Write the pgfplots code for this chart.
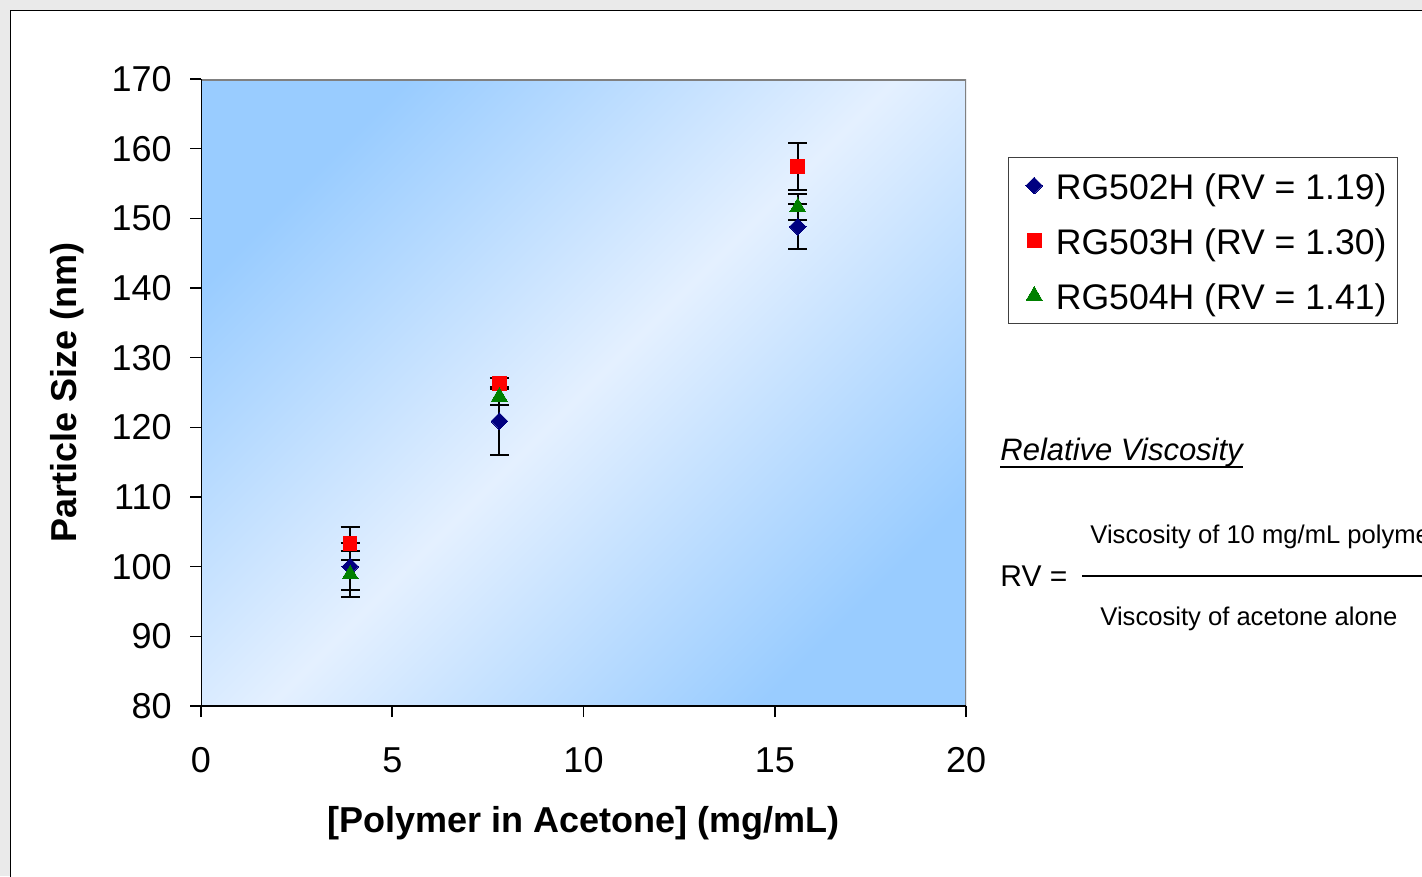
\documentclass[border=0pt]{standalone}
\usepackage{pgfplots}
\pgfplotsset{compat=1.18}
\usepackage{pgfplotstable}
\usepackage{fontspec}
\setmainfont{Liberation Sans}

\definecolor{bgdark}{RGB}{153,204,255}
\definecolor{bglight}{RGB}{228,240,255}
\definecolor{sNavy}{RGB}{0,0,128}
\definecolor{sRed}{RGB}{255,0,0}
\definecolor{sGreen}{RGB}{0,128,0}
\definecolor{pagegray}{RGB}{234,234,234}
\definecolor{framegray}{RGB}{128,128,128}

\newcommand\chartfont{\fontsize{18bp}{21bp}\selectfont}
\newcommand\legendfont{\fontsize{17.8bp}{21bp}\selectfont}

% particle size (nm) vs polymer concentration (mg/mL), mean and error
\pgfplotstableread{
x     y      e
3.9   100.0  3.4
7.8   120.9  4.9
15.6  148.8  3.2
}\rgA
\pgfplotstableread{
x     y      e
3.9   103.3  2.4
7.8   126.3  0.8
15.6  157.4  3.4
}\rgB
\pgfplotstableread{
x     y      e
3.9   98.9   3.3
7.8   124.4  1.2
15.6  151.6  1.9
}\rgC

\begin{document}
\begin{tikzpicture}[x=0.5bp,y=0.5bp]
\useasboundingbox (0,0) rectangle (1422,876);
\clip (0,0) rectangle (1422,876);
\fill[pagegray] (0,0) rectangle (1422,876);
\filldraw[fill=white, draw=black, line width=0.6bp] (10.5,-20) rectangle (1440,865.5);

\begin{axis}[
  at={(100.5bp,85bp)}, anchor=south west,
  scale only axis, width=382.5bp, height=313.5bp,
  xmin=0, xmax=20, ymin=80, ymax=170,
  xtick={0,5,...,20}, ytick={80,90,...,170},
  tick pos=left, tick align=outside, major tick length=5.5bp,
  tick style={black, line width=0.8bp},
  axis line style={draw=none},
  axis background/.style={top color=bgdark, bottom color=bgdark,
    middle color=bglight, shading angle=45},
  /pgf/number format/assume math mode=true,
  ticklabel style={font=\chartfont},
  yticklabel style={anchor=east, inner sep=0pt, xshift=-9bp},
  xticklabel style={anchor=north, inner sep=0pt, yshift=-15bp},
  xlabel={[Polymer in Acetone] (mg/mL)},
  ylabel={Particle Size (nm)},
  every axis x label/.style={at={(rel axis cs:0.5,-0.1866)}, anchor=center,
    font=\chartfont\bfseries},
  every axis y label/.style={at={(rel axis cs:-0.1752,0.5)}, anchor=center,
    rotate=90, font=\chartfont\bfseries},
  legend cell align=left,
  legend style={at={(1.0549,0.8756)}, anchor=north west,
    draw=black!75, line width=0.6bp, fill=white,
    inner xsep=5.5bp, inner ysep=5.5bp, font=\legendfont, row sep=10.5bp,
    nodes={inner sep=0pt, text height=15.5bp, text depth=1.5bp}},
  legend image code/.code={\path (0bp,0bp) (17.5bp,0bp);
    \draw[#1] plot coordinates {(7bp,0bp)};},
]

% error bars first so every marker sits on top of them
\pgfplotsset{ebar/.style={only marks, mark=none, forget plot,
  error bars/.cd, y dir=both, y explicit,
  error bar style={black, line width=1bp},
  error mark options={rotate=90, black, line width=1bp, mark size=4.75bp}}}
\addplot[ebar] table[x=x, y=y, y error=e] {\rgA};
\addplot[ebar] table[x=x, y=y, y error=e] {\rgB};
\addplot[ebar] table[x=x, y=y, y error=e] {\rgC};

\addplot[only marks, mark=square*, mark size=2.95bp,
  mark options={rotate=45, draw=sNavy, fill=sNavy, line width=0pt}]
  table[x=x, y=y] {\rgA};
\addlegendentry{RG502H (RV = 1.19)}
\addplot[only marks, mark=square*, mark size=3.4bp,
  mark options={draw=sRed, fill=sRed, line width=0pt}]
  table[x=x, y=y] {\rgB};
\addlegendentry{RG503H (RV = 1.30)}
\addplot[only marks, mark=triangle*, mark size=4.6bp,
  mark options={draw=sGreen, fill=sGreen, line width=0pt}]
  table[x=x, y=y] {\rgC};
\addlegendentry{RG504H (RV = 1.41)}

% plot area frame: grey top and right, black axis lines left and bottom
\draw[framegray, line width=1.5bp] (rel axis cs:0,1) -- (rel axis cs:1,1) -- (rel axis cs:1,0);
\draw[black, line width=1bp] (rel axis cs:0,1) -- (rel axis cs:0,0) -- (rel axis cs:1,0);
\end{axis}

% relative viscosity definition
\node[anchor=base west, inner sep=0pt, font=\fontsize{15.5bp}{18bp}\selectfont\itshape]
  (rvtitle) at (1000,415) {Relative Viscosity};
\draw[black, line width=1.1bp] ([yshift=-3bp]rvtitle.base west) -- ([yshift=-3bp]rvtitle.base east);
\node[anchor=base west, inner sep=0pt, font=\fontsize{15bp}{17bp}\selectfont]
  at (1000,290) {RV =};
\draw[black, line width=1bp] (1082,300) -- (1440,300);
\node[anchor=base west, inner sep=0pt, font=\fontsize{12.8bp}{15bp}\selectfont]
  at (1090,332) {Viscosity of 10 mg/mL polymer};
\node[anchor=base west, inner sep=0pt, font=\fontsize{12.8bp}{15bp}\selectfont]
  at (1100,251) {Viscosity of acetone alone};
\end{tikzpicture}
\end{document}
